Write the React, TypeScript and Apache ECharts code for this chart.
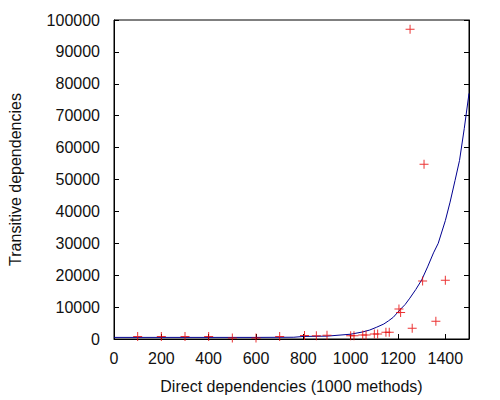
import React, { useEffect, useRef } from "react";
import * as echarts from "echarts";

const pointX = [100, 200, 300, 400, 500, 600, 700, 805, 855, 900, 1000, 1014, 1051, 1065, 1100, 1114, 1149, 1163, 1204, 1211, 1251, 1260, 1304, 1310, 1360, 1400];
const pointY = [800, 800, 800, 800, 300, 300, 800, 1100, 1000, 1200, 1000, 1000, 1250, 1250, 1560, 1560, 2100, 2100, 9400, 8300, 97100, 3400, 18200, 54800, 5600, 18400];

const fitX = [0, 200, 400, 600, 760, 800, 900, 1000, 1050, 1080, 1110, 1140, 1160, 1180, 1210, 1230, 1250, 1275, 1300, 1325, 1350, 1370, 1400, 1420, 1441, 1460, 1480, 1500];
const fitY = [500, 500, 500, 500, 550, 800, 900, 1500, 2200, 2800, 3700, 4700, 5700, 6800, 9300, 10800, 12800, 15500, 18500, 22600, 27000, 30000, 37100, 42900, 49700, 56000, 66000, 77000];

const xTitle = "Direct dependencies (1000 methods)";
const yTitle = "Transitive dependencies";

const FONT = "Liberation Sans";
const PLUS = "path://M4,0H5V4H9V5H5V9H4V5H0V4H4Z";

export default function App() {
  const ref = useRef<HTMLDivElement>(null);
  useEffect(() => {
    if (!ref.current) return;
    const chart = echarts.init(ref.current, null, { renderer: "svg" });
    const labelStyle = { color: "#111", fontFamily: FONT, fontSize: 16 };
    chart.setOption({
      animation: false,
      backgroundColor: "#fff",
      grid: { left: 114, right: 31, top: 20, bottom: 61, show: true, borderColor: "#000", borderWidth: 1, outerBoundsMode: "none", containLabel: false },
      xAxis: {
        type: "value",
        min: 0,
        max: 1500,
        interval: 200,
        name: xTitle,
        nameLocation: "middle",
        nameGap: 39,
        nameTextStyle: labelStyle,
        axisLine: { lineStyle: { color: "#000", width: 1 } },
        axisTick: { inside: true, length: 5, lineStyle: { color: "#000" } },
        axisLabel: { ...labelStyle, margin: 11, showMaxLabel: false, formatter: (v: number) => String(v) },
        splitLine: { show: false },
      },
      yAxis: [
        {
          type: "value",
          min: 0,
          max: 100000,
          interval: 10000,
          name: yTitle,
          nameLocation: "middle",
          nameGap: 91,
          nameTextStyle: labelStyle,
          axisLine: { lineStyle: { color: "#000", width: 1 } },
          axisTick: { inside: true, length: 5, lineStyle: { color: "#000" } },
          axisLabel: { ...labelStyle, margin: 14, formatter: (v: number) => String(v) },
          splitLine: { show: false },
        },
        {
          type: "value",
          position: "right",
          min: 0,
          max: 100000,
          interval: 10000,
          axisLine: { show: true, lineStyle: { color: "#000", width: 1 } },
          axisTick: { show: true, inside: true, length: 5, lineStyle: { color: "#000" } },
          axisLabel: { show: false },
          splitLine: { show: false },
        },
      ],
      series: [
        {
          type: "line",
          data: fitX.map((x, i) => [x, fitY[i]]),
          smooth: false,
          showSymbol: false,
          lineStyle: { color: "#000090", width: 1 },
          z: 2,
        },
        {
          type: "scatter",
          data: pointX.map((x, i) => [x, pointY[i]]),
          symbol: PLUS,
          symbolSize: 9,
          itemStyle: { color: "#e60000" },
          z: 3,
        },
      ],
    });
    return () => chart.dispose();
  }, []);
  return <div ref={ref} style={{ width: 500, height: 400, position: "absolute", left: 0, top: 0 }} />;
}
